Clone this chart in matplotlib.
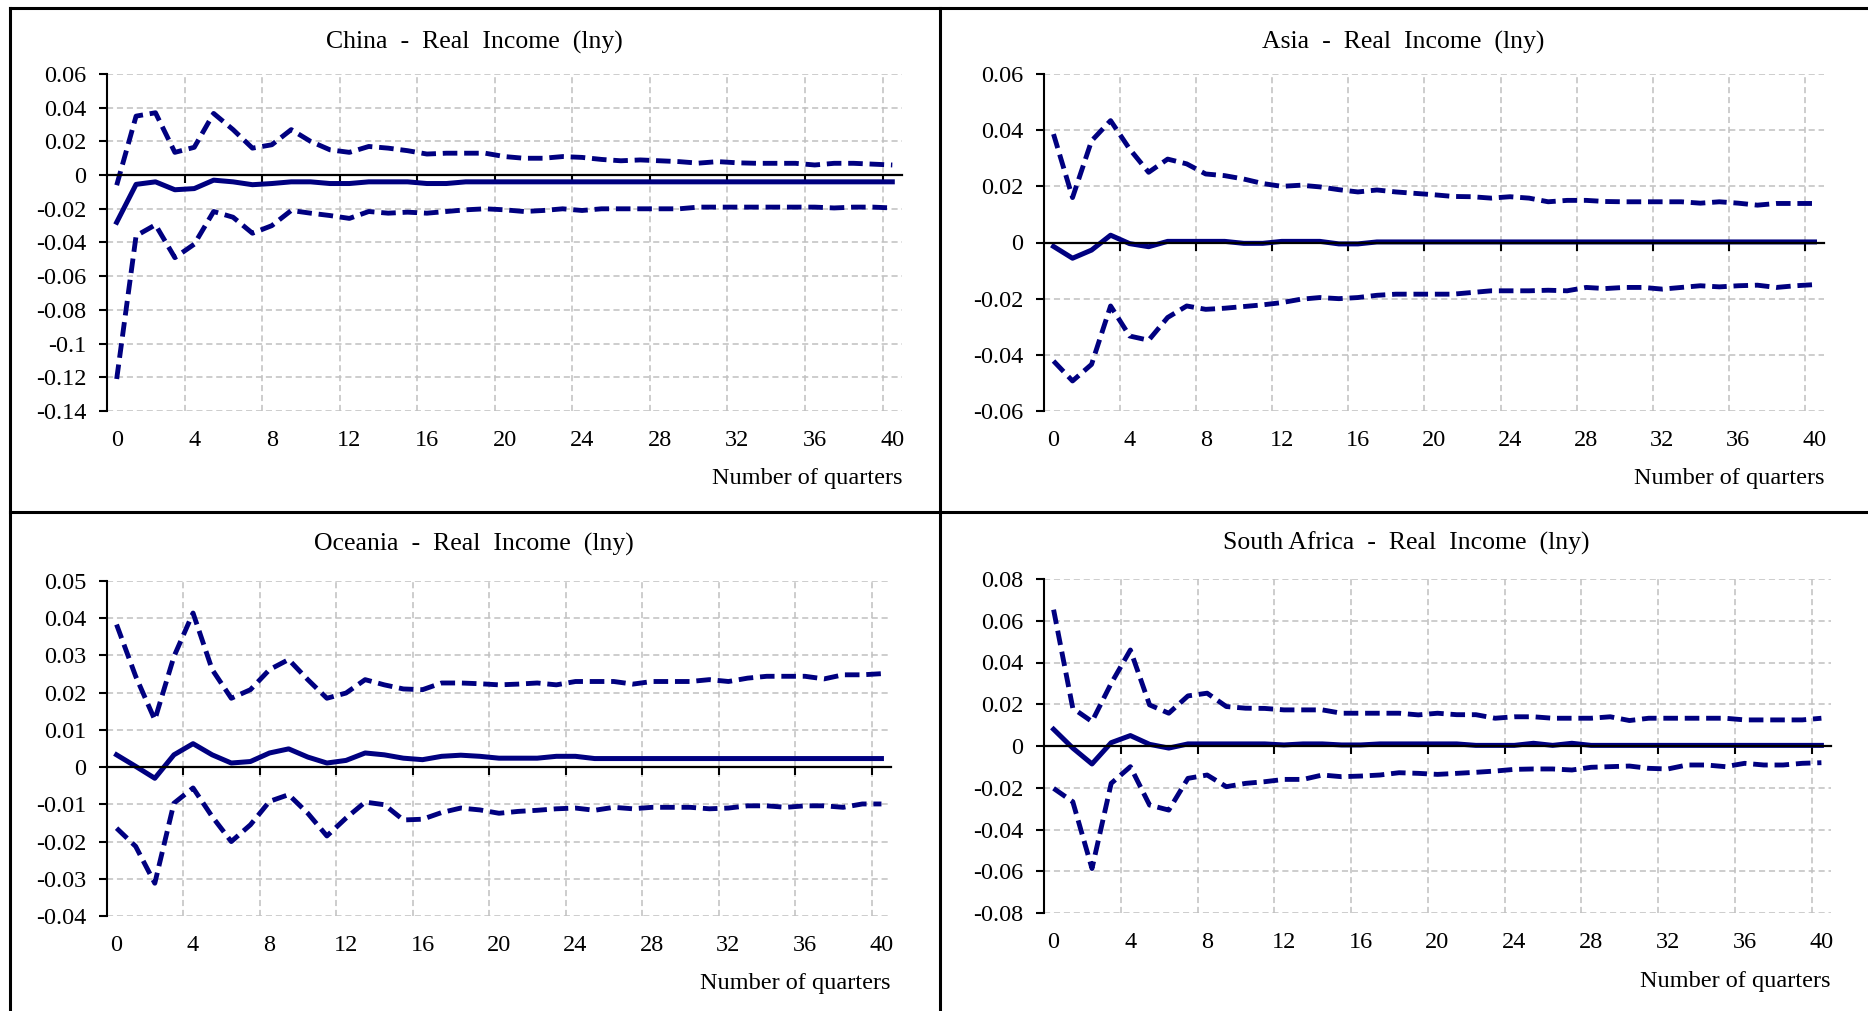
import numpy as np
import matplotlib
matplotlib.use("Agg")
import matplotlib.pyplot as plt
from matplotlib.lines import Line2D
from matplotlib.ticker import FixedLocator, FuncFormatter

plt.rcParams['font.family'] = ['Liberation Serif', 'DejaVu Serif']
plt.rcParams['axes.unicode_minus'] = False

quarters = np.arange(41)

china_mid = [-0.028, -0.0055, -0.004, -0.0087, -0.008, -0.003, -0.004, -0.0057, -0.005, -0.004,
             -0.004, -0.005, -0.005, -0.004, -0.004, -0.004, -0.005, -0.005, -0.004, -0.004,
             -0.004, -0.004, -0.004, -0.004, -0.004, -0.004, -0.004, -0.004, -0.004, -0.004,
             -0.004, -0.004, -0.004, -0.004, -0.004, -0.004, -0.004, -0.004, -0.004, -0.004, -0.004]
china_up = [-0.006, 0.035, 0.037, 0.0135, 0.0165, 0.0366, 0.027, 0.016, 0.018, 0.027,
            0.020, 0.015, 0.0135, 0.017, 0.016, 0.0145, 0.0125, 0.013, 0.013, 0.013,
            0.011, 0.010, 0.010, 0.011, 0.0105, 0.0093, 0.0085, 0.009, 0.0085, 0.008,
            0.0071, 0.008, 0.0073, 0.007, 0.007, 0.007, 0.006, 0.007, 0.007, 0.0065, 0.006]
china_lo = [-0.121, -0.036, -0.0295, -0.049, -0.041, -0.0216, -0.025, -0.0345, -0.030, -0.021,
            -0.0226, -0.024, -0.0257, -0.0216, -0.0226, -0.022, -0.0226, -0.0216, -0.0206, -0.020,
            -0.0206, -0.0216, -0.021, -0.020, -0.021, -0.020, -0.020, -0.020, -0.020, -0.020,
            -0.019, -0.019, -0.019, -0.019, -0.019, -0.019, -0.019, -0.0195, -0.019, -0.019, -0.0195]

asia_mid = [-0.0014, -0.0056, -0.0027, 0.0026, -0.0004, -0.0015, 0.0004, 0.0004, 0.0004, 0.0004,
            -0.0003, -0.0003, 0.0004, 0.0004, 0.0004, -0.0005, -0.0005, 0.0002, 0.0002, 0.0002,
            0.0002, 0.0002, 0.0002, 0.0002, 0.0002, 0.0002, 0.0002, 0.0002, 0.0002, 0.0002,
            0.0002, 0.0002, 0.0002, 0.0002, 0.0002, 0.0002, 0.0002, 0.0002, 0.0002, 0.0002, 0.0002]
asia_up = [0.0386, 0.016, 0.0362, 0.0434, 0.0333, 0.025, 0.0297, 0.028, 0.0244, 0.0238,
           0.0226, 0.021, 0.020, 0.0204, 0.0198, 0.0188, 0.018, 0.0187, 0.018, 0.0175,
           0.017, 0.0164, 0.0163, 0.0158, 0.0163, 0.0158, 0.0145, 0.015, 0.015, 0.0146,
           0.0145, 0.0145, 0.0145, 0.0145, 0.014, 0.0145, 0.014, 0.0133, 0.0139, 0.0139, 0.0139]
asia_lo = [-0.0422, -0.0493, -0.0434, -0.0226, -0.0333, -0.0348, -0.0267, -0.0226, -0.0238, -0.0234,
           -0.0228, -0.0222, -0.0214, -0.0202, -0.0196, -0.020, -0.0196, -0.0188, -0.0184, -0.0184,
           -0.0184, -0.0184, -0.0178, -0.0172, -0.0172, -0.0172, -0.017, -0.0172, -0.016, -0.0164,
           -0.016, -0.016, -0.0166, -0.016, -0.0154, -0.0158, -0.0154, -0.0152, -0.016, -0.0154, -0.015]

oceania_mid = [0.0033, 0.0002, -0.003, 0.0033, 0.0063, 0.0033, 0.0011, 0.0015, 0.0038, 0.0049,
               0.0027, 0.0011, 0.0018, 0.0038, 0.0033, 0.0024, 0.002, 0.0029, 0.0032, 0.0029,
               0.0024, 0.0024, 0.0024, 0.0029, 0.0029, 0.0023, 0.0023, 0.0023, 0.0023, 0.0023,
               0.0023, 0.0023, 0.0023, 0.0023, 0.0023, 0.0023, 0.0023, 0.0023, 0.0023, 0.0023, 0.0023]
oceania_up = [0.0383, 0.0244, 0.0127, 0.0297, 0.0414, 0.0262, 0.0185, 0.0208, 0.0262, 0.0289,
              0.0235, 0.0185, 0.0199, 0.0235, 0.0221, 0.021, 0.0208, 0.0226, 0.0226, 0.0224,
              0.0221, 0.0223, 0.0226, 0.0221, 0.023, 0.023, 0.023, 0.0223, 0.023, 0.023,
              0.023, 0.0235, 0.023, 0.0239, 0.0244, 0.0244, 0.0244, 0.0237, 0.0248, 0.0248, 0.0251]
oceania_lo = [-0.0164, -0.0213, -0.0312, -0.0097, -0.0056, -0.0133, -0.020, -0.0155, -0.0092, -0.0074,
              -0.0124, -0.0185, -0.0137, -0.0094, -0.0101, -0.0142, -0.014, -0.0122, -0.011, -0.0115,
              -0.0124, -0.0119, -0.0116, -0.0112, -0.011, -0.0116, -0.0108, -0.0112, -0.0108, -0.0108,
              -0.0108, -0.0112, -0.011, -0.0104, -0.0104, -0.0108, -0.0104, -0.0104, -0.0108, -0.0099, -0.0099]

safrica_mid = [0.008, -0.001, -0.0086, 0.0016, 0.005, 0.0008, -0.001, 0.001, 0.001, 0.001,
               0.001, 0.001, 0.0005, 0.001, 0.001, 0.0005, 0.0005, 0.001, 0.001, 0.001,
               0.001, 0.001, 0.0003, 0.0003, 0.0003, 0.0013, 0.0003, 0.0013, 0.0003, 0.0003,
               0.0003, 0.0003, 0.0003, 0.0003, 0.0003, 0.0003, 0.0003, 0.0003, 0.0003, 0.0003, 0.0003]
safrica_up = [0.0653, 0.0181, 0.0117, 0.030, 0.046, 0.0197, 0.0157, 0.024, 0.0253, 0.0189,
              0.0181, 0.018, 0.0173, 0.0173, 0.0173, 0.0157, 0.0157, 0.0157, 0.0157, 0.0149,
              0.0157, 0.015, 0.015, 0.0133, 0.014, 0.014, 0.0133, 0.0133, 0.0133, 0.014,
              0.0122, 0.0133, 0.0133, 0.0133, 0.0133, 0.0133, 0.0125, 0.0125, 0.0125, 0.0125, 0.0133]
safrica_lo = [-0.0203, -0.0267, -0.0587, -0.0179, -0.0099, -0.0283, -0.0307, -0.0155, -0.0139, -0.0195,
              -0.0179, -0.0171, -0.016, -0.016, -0.0139, -0.0147, -0.0144, -0.0139, -0.0128, -0.0131,
              -0.0136, -0.0131, -0.0126, -0.012, -0.0112, -0.011, -0.011, -0.0115, -0.0102, -0.0099,
              -0.0096, -0.0107, -0.011, -0.0091, -0.0091, -0.0099, -0.0083, -0.0091, -0.0091, -0.0083, -0.008]

titles = ['China  -  Real  Income  (lny)', 'Asia  -  Real  Income  (lny)',
          'Oceania  -  Real  Income  (lny)', 'South Africa  -  Real  Income  (lny)']
y_ranges = [(-0.14, 0.06, 0.02), (-0.06, 0.06, 0.02), (-0.04, 0.05, 0.01), (-0.08, 0.08, 0.02)]
series = [(china_mid, china_up, china_lo), (asia_mid, asia_up, asia_lo),
          (oceania_mid, oceania_up, oceania_lo), (safrica_mid, safrica_up, safrica_lo)]

W, H = 1868, 1011
# axes boxes in pixels: left, top, right, bottom
boxes = [(107, 74, 902, 411), (1044, 74, 1824, 411),
         (107, 581, 891, 916), (1044, 579, 1831, 913)]
title_pos = [(474, 42), (1403, 42), (474, 544), (1406, 543)]

navy = '#000080'
fig = plt.figure(figsize=(W / 100, H / 100), dpi=100)


def fmt(v, pos):
    if abs(v) < 1e-9:
        return '0'
    s = '%.2f' % v
    return s.rstrip('0').rstrip('.')


for i in range(4):
    l, t, r, b = boxes[i]
    ax = fig.add_axes([l / W, 1 - b / H, (r - l) / W, (b - t) / H])
    lo, hi, step = y_ranges[i]
    yt = np.round(np.arange(lo, hi + step / 2, step), 4)
    ax.set_ylim(lo, hi)
    ax.set_xlim(-0.5, 40.5)
    ax.yaxis.set_major_locator(FixedLocator(yt))
    ax.yaxis.set_major_formatter(FuncFormatter(fmt))
    grid_x = np.arange(3.5, 40, 4)
    ax.xaxis.set_major_locator(FixedLocator(grid_x))
    ax.set_xticklabels([])

    ax.grid(True, color='#c0c0c0', linestyle=(0, (4, 2.5)), linewidth=1.1)
    ax.set_axisbelow(True)

    for side in ['top', 'right']:
        ax.spines[side].set_visible(False)
    ax.spines['left'].set_linewidth(1.5)
    ax.spines['bottom'].set_position(('data', 0))
    ax.spines['bottom'].set_linewidth(1.6)
    ax.tick_params(axis='y', direction='out', length=6, width=1.5, pad=9, labelsize=17.5)
    ax.tick_params(axis='x', direction='out', length=6, width=1.5)

    mid, up, low = series[i]
    ax.plot(quarters, up, color=navy, lw=3.5, linestyle=(0, (3.0, 1.4)))
    ax.plot(quarters, low, color=navy, lw=3.5, linestyle=(0, (3.0, 1.4)))
    ax.plot(quarters, mid, color=navy, lw=3.6, solid_joinstyle='round')

    # quarter labels along the bottom edge
    sec = ax.secondary_xaxis(0.0)
    sec.set_xticks(np.arange(0, 41, 4))
    sec.set_xticklabels([str(q) for q in range(0, 41, 4)])
    sec.tick_params(length=0, pad=14, labelsize=17.5)
    sec.spines['bottom'].set_visible(False)

    ax.text(1.0, -68 / (b - t), 'Number of quarters', transform=ax.transAxes,
            ha='right', va='center', fontsize=17.5)

    tx, ty = title_pos[i]
    fig.text(tx / W, 1 - ty / H, titles[i], ha='center', va='center', fontsize=18.5)

# panel frame
frame = [((10, 1868), (8, 8)), ((10, 10), (8, 1011)), ((940, 940), (8, 1011)),
         ((10, 1868), (512, 512))]
for xs, ys in frame:
    fig.add_artist(Line2D([x / W for x in xs], [1 - y / H for y in ys],
                          transform=fig.transFigure, color='black', lw=2.2))

fig.savefig('out.png', dpi=100)
